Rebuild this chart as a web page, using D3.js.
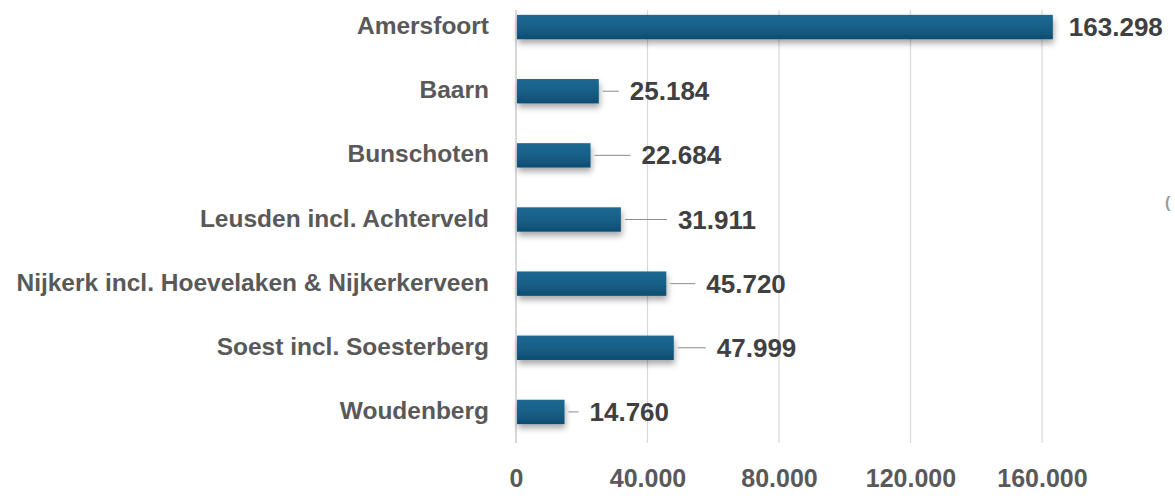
<!DOCTYPE html>
<html>
<head>
<meta charset="utf-8">
<script src="https://cdn.jsdelivr.net/npm/d3@7"></script>
<style>
  html, body { margin: 0; padding: 0; background: #ffffff; }
  svg { display: block; }
  text { font-family: "Liberation Sans", Arial, sans-serif; font-weight: bold; }
</style>
</head>
<body>
<svg id="chart" width="1175" height="498"></svg>
<script>
// data
const places = [
  "Amersfoort",
  "Baarn",
  "Bunschoten",
  "Leusden incl. Achterveld",
  "Nijkerk incl. Hoevelaken & Nijkerkerveen",
  "Soest incl. Soesterberg",
  "Woudenberg",
];
const inhabitants = [163298, 25184, 22684, 31911, 45720, 47999, 14760];
const xTicks = [0, 40000, 80000, 120000, 160000];

// gap between bar end and its label (labels were dragged in the original)
const labelGap = [16, 31, 51, 57, 40, 43, 25];

const nl = d3.formatLocale({ decimal: ",", thousands: ".", grouping: [3], currency: ["€", ""] });
const fmt = nl.format(",d");

const svg = d3.select("#chart");

// defs: bar gradient + shadow
const defs = svg.append("defs");
const grad = defs.append("linearGradient")
  .attr("id", "barGrad")
  .attr("x1", 0).attr("y1", 0).attr("x2", 0).attr("y2", 1);
grad.append("stop").attr("offset", "0%").attr("stop-color", "#1e6890");
grad.append("stop").attr("offset", "45%").attr("stop-color", "#176189");
grad.append("stop").attr("offset", "100%").attr("stop-color", "#0f4d72");

const shadow = defs.append("filter")
  .attr("id", "barShadow")
  .attr("x", "-10%").attr("y", "-40%")
  .attr("width", "130%").attr("height", "200%");
shadow.append("feDropShadow")
  .attr("dx", 1).attr("dy", 4)
  .attr("stdDeviation", 3)
  .attr("flood-color", "#000")
  .attr("flood-opacity", 0.35);

// scales
const x = d3.scaleLinear().domain([0, 160000]).range([516, 1042]);
const y = d3.scaleBand()
  .domain(places)
  .range([-5, 444])
  .paddingInner(0.62)
  .paddingOuter(0.31);

const gridTop = 10;
const gridBottom = 443;

// grid lines
svg.append("g")
  .selectAll("line")
  .data(xTicks.slice(1))
  .enter()
  .append("line")
  .attr("x1", (d) => x(d)).attr("x2", (d) => x(d))
  .attr("y1", gridTop).attr("y2", gridBottom)
  .attr("stroke", "#d9d9d9")
  .attr("stroke-width", 1.2);

// x axis labels
const xAxis = svg.append("g")
  .attr("transform", `translate(0,${gridBottom})`)
  .call(d3.axisBottom(x).tickValues(xTicks).tickFormat(fmt).tickSize(0).tickPadding(26));
xAxis.select(".domain").remove();
xAxis.selectAll("text")
  .attr("font-size", 25)
  .attr("font-family", "Liberation Sans, Arial, sans-serif")
  .attr("font-weight", "bold")
  .attr("fill", "#595959");

// vertical category axis line
svg.append("line")
  .attr("x1", x(0)).attr("x2", x(0))
  .attr("y1", gridTop).attr("y2", gridBottom)
  .attr("stroke", "#bfbfbf")
  .attr("stroke-width", 1.2);

// category labels
svg.append("g")
  .selectAll("text")
  .data(places)
  .enter()
  .append("text")
  .attr("x", 489)
  .attr("y", (d) => y(d) + y.bandwidth() / 2 + 7)
  .attr("text-anchor", "end")
  .attr("font-size", 24.5)
  .attr("fill", "#595959")
  .text((d) => d);

const rows = places.map((p, i) => ({ place: p, value: inhabitants[i], gap: labelGap[i] }));

// bars
svg.append("g")
  .selectAll("rect")
  .data(rows)
  .enter()
  .append("rect")
  .attr("x", x(0) + 1)
  .attr("y", (d) => y(d.place))
  .attr("width", (d) => x(d.value) - x(0) - 1)
  .attr("height", y.bandwidth())
  .attr("fill", "url(#barGrad)")
  .attr("filter", "url(#barShadow)");

// leader lines
svg.append("g")
  .selectAll("line")
  .data(rows.filter((d) => d.gap > 20))
  .enter()
  .append("line")
  .attr("x1", (d) => x(d.value) + 4)
  .attr("x2", (d) => x(d.value) + d.gap - 11)
  .attr("y1", (d) => y(d.place) + y.bandwidth() / 2)
  .attr("y2", (d) => y(d.place) + y.bandwidth() / 2)
  .attr("stroke", "#8c8c8c")
  .attr("stroke-width", 1);

// value labels
svg.append("g")
  .selectAll("text")
  .data(rows)
  .enter()
  .append("text")
  .attr("x", (d) => x(d.value) + d.gap)
  .attr("y", (d) => y(d.place) + y.bandwidth() / 2 + 9)
  .attr("font-size", 26)
  .attr("fill", "#404040")
  .text((d) => fmt(d.value));

// cut-off glyph at the right edge of the original picture
svg.append("text")
  .attr("x", 1165)
  .attr("y", 208)
  .attr("font-size", 16)
  .attr("font-weight", "normal")
  .attr("fill", "#9a9a9a")
  .text("(");
</script>
</body>
</html>
